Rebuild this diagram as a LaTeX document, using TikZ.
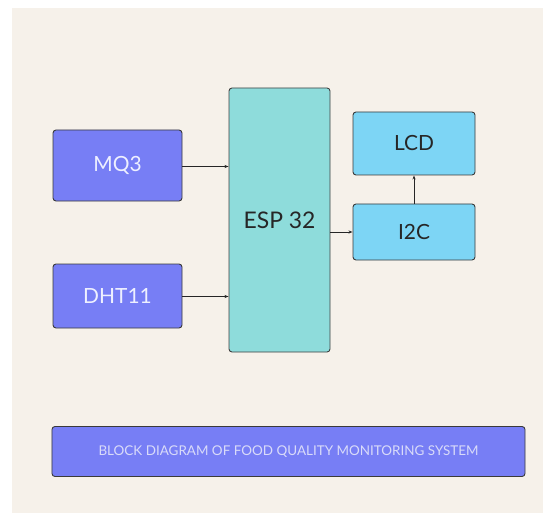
\documentclass[tikz,border=0pt]{standalone}
\usepackage{fontspec}
\setmainfont{Lato}
\usetikzlibrary{arrows.meta}
\definecolor{bgbeige}{HTML}{F6F1EA}
\definecolor{purplebox}{HTML}{777EF5}
\definecolor{tealbox}{HTML}{8EDCDB}
\definecolor{bluebox}{HTML}{7DD5F5}
\definecolor{lighttext}{HTML}{EEF0FF}
\definecolor{titletext}{HTML}{D9DBF9}
\definecolor{edgegray}{HTML}{3A3A3A}
\begin{document}
\begin{tikzpicture}[x=1bp,y=-1bp,
  blk/.style={draw=edgegray,line width=0.9bp,rounded corners=3bp,inner sep=0pt},
  purp/.style={blk,fill=purplebox,text=lighttext,font=\fontsize{21}{24}\selectfont},
  blue/.style={blk,fill=bluebox,text=black!85,font=\fontsize{21}{24}\selectfont},
  conn/.style={-{Stealth[length=4bp,width=3bp]},line width=0.7bp,black!85}]
\useasboundingbox (0,0) rectangle (543,514);
\fill[white] (0,0) rectangle (543,514);
\fill[bgbeige] (12,8) rectangle (543,513);
\node[purp,minimum width=129bp,minimum height=71bp] (mq3) at (117.5,165.5) {MQ3};
\node[purp,minimum width=129bp,minimum height=64bp] (dht) at (117.5,296) {DHT11};
\node[blk,fill=tealbox,draw=black!75,minimum width=101bp,minimum height=264bp,font=\fontsize{23}{26}\selectfont,text=black!85] (esp) at (279.5,220) {ESP 32};
\node[blue,minimum width=122bp,minimum height=63bp] (lcd) at (414,143.5) {LCD};
\node[blue,minimum width=122bp,minimum height=56bp] (i2c) at (414,232) {I2C};
\node[blk,fill=purplebox,text=titletext,minimum width=473bp,minimum height=50bp,font=\fontsize{13.5}{16}\selectfont] (title) at (288.5,451.5) {BLOCK DIAGRAM OF FOOD QUALITY MONITORING SYSTEM};
\draw[conn] (mq3.east |- 0,166.5) -- (esp.west |- 0,166.5);
\draw[conn] (dht.east |- 0,296.5) -- (esp.west |- 0,296.5);
\draw[conn] (esp.east |- i2c.west) -- (i2c.west);
\draw[conn] (i2c.north) -- (lcd.south);
\end{tikzpicture}
\end{document}
